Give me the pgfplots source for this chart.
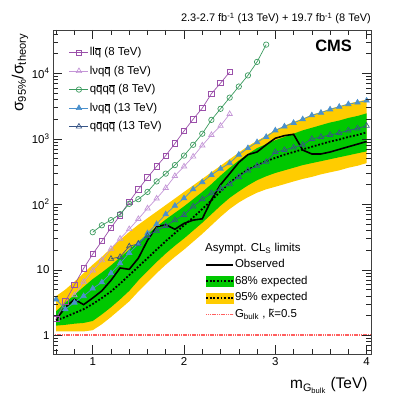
\documentclass[border=0pt]{standalone}
\usepackage{fontspec}
\setmainfont{Liberation Sans}
\usepackage{pgfplots}
\usepackage{pgfplotstable}
\pgfplotsset{compat=1.18}
\usepgfplotslibrary{fillbetween}

\definecolor{cLLQQ}{RGB}{155,80,170}
\definecolor{cLVQQE}{RGB}{196,150,215}
\definecolor{cQQQQE}{RGB}{60,155,95}
\definecolor{cLVQQT}{RGB}{75,145,205}
\definecolor{cQQQQT}{RGB}{55,85,135}
\definecolor{bandGreen}{RGB}{0,200,0}
\definecolor{bandYellow}{RGB}{255,204,0}
\definecolor{thRed}{RGB}{255,95,95}

% q with a bar
\newcommand\qb{\rlap{\hspace{0.05em}\raisebox{0.6em}{\rule{0.46em}{0.06em}}}q}
\newcommand\fsz[1]{\fontsize{#1}{1.2\dimexpr#1pt\relax}\selectfont}

% combined limit: expected, bands, observed
\pgfplotstableread{
m   exp   glo   ghi   ylo   yhi   obs
0.6 1.70  1.41  2.34  1.15  3.98  1.74
0.7 1.91  1.45  3.16  1.15  5.01  2.69
0.8 2.19  1.51  4.17  1.15  6.61  3.55
0.9 2.51  1.55  5.50  1.15  8.91  2.95
1.0 3.02  1.66  7.24  1.20  12.0  3.72
1.1 3.72  2.09  9.12  1.48  15.8  4.79
1.2 4.68  2.69  11.7  1.91  21.4  6.92
1.3 6.17  3.55  15.5  2.51  28.8  10.7
1.4 8.32  4.79  20.4  3.31  38.0  10.2
1.5 11.2  6.92  26.9  4.68  49.0  15.1
1.6 15.1  9.55  35.5  6.46  61.7  28.2
1.7 20.4  13.2  45.7  8.91  77.6  45.7
1.8 27.5  17.8  58.9  12.0  97.7  49.0
1.9 36.3  23.4  74.1  15.8  123   41.7
2.0 47.9  30.2  93.3  20.4  155   51.3
2.1 63.1  39.8  120   26.9  195   57.5
2.2 85.1  52.5  155   35.5  245   60.3
2.3 115   70.8  204   47.9  309   117
2.4 158   95.5  275   64.6  389   200
2.5 214   126   363   85.1  490   295
2.6 275   158   468   107   617   437
2.7 339   195   589   129   776   575
2.8 398   234   724   151   933   631
2.9 457   269   832   170   1122  813
3.0 513   302   955   186   1380  1023
3.1 575   331   1072  204   1585  1122
3.2 631   363   1202  224   1820  1175
3.3 692   398   1349  245   2042  676
3.4 759   427   1479  263   2344  589
3.5 832   457   1622  288   2570  589
3.6 912   490   1778  309   2884  631
3.7 977   525   1905  331   3162  692
3.8 1072  562   2089  363   3467  759
3.9 1148  603   2239  389   3715  832
4.0 1259  646   2455  427   3981  912
}\comb

\pgfplotstableread{
m   r
0.6 1.8
0.7 3.3
0.8 5.9
0.9 10.5
1.0 17.4
1.1 27.5
1.2 44
1.3 68
1.4 110
1.5 170
1.6 257
1.7 380
1.8 556
1.9 850
2.0 1320
2.1 2000
2.2 2950
2.3 4900
2.4 7100
2.5 10500
}\llqqE

\pgfplotstableread{
m   r
0.8 4.1
0.9 6.6
1.0 9.8
1.1 14
1.2 21
1.3 30
1.4 42
1.5 60
1.6 87
1.7 123
1.8 178
1.9 272
2.0 380
2.1 537
2.2 794
2.3 1150
2.4 1585
2.5 2400
}\lvqqE

\pgfplotstableread{
m   r
1.0 37.6
1.1 48
1.2 57.5
1.3 71
1.4 102
1.5 120
1.6 155
1.7 224
1.8 295
1.9 398
2.0 556
2.1 813
2.2 1200
2.3 1950
2.4 2880
2.5 4270
2.6 6300
2.7 9330
2.8 15000
2.9 27500
}\qqqqE

\pgfplotstableread{
m   r
0.6 3.55
0.7 2.51
0.8 3.16
0.9 3.98
1.0 5.19
1.1 6.46
1.2 8.91
1.3 12.6
1.4 18.2
1.5 25.1
1.6 36.3
1.7 50.1
1.8 70.8
1.9 95.5
2.0 124
2.1 170
2.2 219
2.3 282
2.4 351
2.5 427
2.6 575
2.7 724
2.8 891
2.9 1072
3.0 1349
3.1 1549
3.2 1758
3.3 1995
3.4 2291
3.5 2512
3.6 2818
3.7 3090
3.8 3388
3.9 3589
4.0 3846
}\lvqqT

\pgfplotstableread{
m   r
1.2 14.8
1.3 15.8
1.4 22.9
1.5 25.1
1.6 33.1
1.7 39.8
1.8 46.8
1.9 57.5
2.0 69.2
2.1 93.3
2.2 120
2.3 148
2.4 174
2.5 204
2.6 263
2.7 331
2.8 389
2.9 447
3.0 631
3.1 676
3.2 741
3.3 813
3.4 1000
3.5 1072
3.6 1148
3.7 1230
3.8 1349
3.9 1445
4.0 1585
}\qqqqT

\begin{document}
\begin{tikzpicture}
\begin{axis}[name=main,
  scale only axis, width=318bp, height=324bp,
  xmin=0.565, xmax=4.048, ymode=log, ymin=0.52, ymax=4.6e4,
  axis on top,
  xtick={1,2,3,4}, xticklabels={1,2,3,4},
  minor xtick={0.6,0.8,1.2,1.4,1.6,1.8,2.2,2.4,2.6,2.8,3.2,3.4,3.6,3.8},
  ytick={1,10,100,1000,10000},
  yticklabels={1,10,10\textsuperscript{2},10\textsuperscript{3},10\textsuperscript{4}},
  minor ytick={0.6,0.7,0.8,0.9,2,3,4,5,6,7,8,9,20,30,40,50,60,70,80,90,
    200,300,400,500,600,700,800,900,2000,3000,4000,5000,6000,7000,8000,9000,
    20000,30000,40000},
  tick align=inside,
  major tick length=9bp, minor tick length=5bp,
  every tick/.style={black!85, line width=0.6bp},
  axis line style={black!75, line width=0.9bp},
  tick label style={font=\fsz{11.5}},
  xlabel={m\textsubscript{G\textsubscript{bulk}} (TeV)},
  xlabel style={font=\fsz{15.5}, at={(axis description cs:1,-0.108)}, anchor=base east},
  ylabel={σ\textsubscript{95\%}/σ\textsubscript{theory}},
  ylabel style={font=\fsz{16}, at={(axis description cs:-0.104,1)}, anchor=east},
  legend cell align=left,
  legend style={at={(0.478,0.296)}, anchor=north west, draw=none, fill=none,
    inner sep=0pt, row sep=3.6bp, font=\fsz{11.5},
    nodes={inner sep=1bp, text height=8.5bp, text depth=2.5bp}},
  legend image code/.code={\draw[#1] (0bp,0bp) -- (27bp,0bp);},
]
  \addplot[name path=yh, draw=none, forget plot] table[x=m, y=yhi] {\comb};
  \addplot[name path=yl, draw=none, forget plot] table[x=m, y=ylo] {\comb};
  \addplot[bandYellow, forget plot] fill between[of=yh and yl];
  \addplot[name path=gh, draw=none, forget plot] table[x=m, y=ghi] {\comb};
  \addplot[name path=gl, draw=none, forget plot] table[x=m, y=glo] {\comb};
  \addplot[bandGreen, forget plot] fill between[of=gh and gl];
  \addplot[black, line width=1.8bp, dash pattern=on 1.8bp off 1.8bp, forget plot]
    table[x=m, y=exp] {\comb};
  \addplot[black, line width=1.6bp] table[x=m, y=obs] {\comb};
  \addlegendentry{Observed}
  \addlegendimage{legend image code/.code={
    \fill[bandGreen] (0bp,-5bp) rectangle (27bp,5bp);
    \draw[black, line width=1.8bp, dash pattern=on 1.8bp off 1.8bp] (0bp,0bp) -- (27bp,0bp);}}
  \addlegendentry{68\% expected}
  \addlegendimage{legend image code/.code={
    \fill[bandYellow] (0bp,-5bp) rectangle (27bp,5bp);
    \draw[black, line width=1.8bp, dash pattern=on 1.8bp off 1.8bp] (0bp,0bp) -- (27bp,0bp);}}
  \addlegendentry{95\% expected}
  \addplot[thRed, line width=1.8bp, dash pattern=on 1.2bp off 0.6bp]
    coordinates {(0.565,1) (4.048,1)};
  \addlegendentry{G\textsubscript{bulk} , \~{k}=0.5}
\end{axis}

\begin{axis}[hide axis,
  scale only axis, width=318bp, height=324bp,
  xmin=0.565, xmax=4.048, ymode=log, ymin=0.52, ymax=4.6e4,
  legend cell align=left,
  legend style={at={(0.05,0.951)}, anchor=north west, draw=none, fill=none,
    inner sep=0pt, row sep=5.5bp, font=\fsz{11.5},
    nodes={inner sep=1bp, text height=8.5bp, text depth=2.5bp}},
  legend image code/.code={\draw[mark repeat=2, mark phase=2, #1]
    plot coordinates {(0bp,0bp) (9.5bp,0bp) (19bp,0bp)};},
]
  \addplot[cLLQQ, line width=0.7bp, mark=square, mark size=2.7bp, mark options={solid}]
    table[x=m, y=r] {\llqqE};
  \addlegendentry{ll\qb\ (8 TeV)}
  \addplot[cLVQQE, line width=0.7bp, mark=triangle, mark size=3.1bp, mark options={solid}]
    table[x=m, y=r] {\lvqqE};
  \addlegendentry{lνq\qb\ (8 TeV)}
  \addplot[cQQQQE, line width=0.7bp, mark=o, mark size=2.7bp, mark options={solid}]
    table[x=m, y=r] {\qqqqE};
  \addlegendentry{q\qb q\qb\ (8 TeV)}
  \addplot[cLVQQT, line width=0.7bp, mark=triangle*, mark size=3.1bp, mark options={solid}]
    table[x=m, y=r] {\lvqqT};
  \addlegendentry{lνq\qb\ (13 TeV)}
  \addplot[cQQQQT, line width=0.7bp, mark=triangle, mark size=3.1bp, mark options={solid}]
    table[x=m, y=r] {\qqqqT};
  \addlegendentry{q\qb q\qb\ (13 TeV)}
\end{axis}

\node[anchor=base west, font=\fsz{11.5}, inner sep=0pt]
  at ([xshift=152bp, yshift=102bp]main.south west) {Asympt. CL\textsubscript{S} limits};
\node[anchor=north east, font=\bfseries\fsz{16.5}, inner sep=0pt]
  at ([xshift=-19bp, yshift=-10bp]main.north east) {CMS};
\node[anchor=base east, font=\fsz{11}, inner sep=0pt]
  at ([yshift=8bp]main.north east)
  {2.3-2.7 fb\textsuperscript{-1} (13 TeV) + 19.7 fb\textsuperscript{-1} (8 TeV)};
\path ([xshift=-53bp, yshift=-49bp]main.south west)
  rectangle ([xshift=28bp, yshift=30bp]main.north east);
\end{tikzpicture}
\end{document}
